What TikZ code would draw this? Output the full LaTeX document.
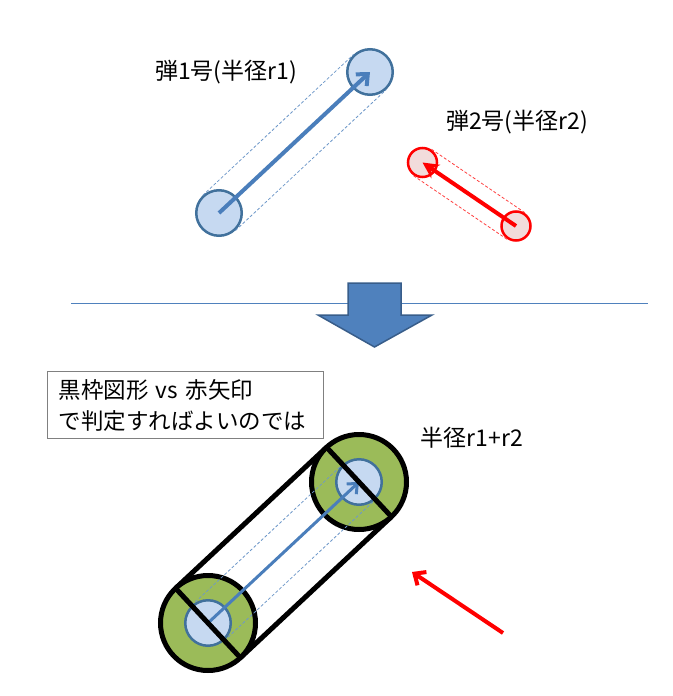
\documentclass[tikz,border=0pt]{standalone}
\usepackage{fontspec}
\setmainfont{Noto Sans CJK JP}
\usetikzlibrary{calc, arrows.meta}
\definecolor{ballblue}{HTML}{C6D9F1}
\definecolor{edgeblue}{HTML}{41719C}
\definecolor{shotblue}{HTML}{4A7EBB}
\definecolor{ballpink}{HTML}{F2DCDB}
\definecolor{hitgreen}{HTML}{9BBB59}
\definecolor{bigblue}{HTML}{4F81BD}
\definecolor{bigedge}{HTML}{385D8A}
\tikzstyle{ball1} = [circle, draw=edgeblue, fill=ballblue, line width=2.5pt, minimum size=45.5pt, inner sep=0pt]
\tikzstyle{ball2} = [circle, draw=red, fill=ballpink, line width=2.5pt, minimum size=29pt, inner sep=0pt]
\tikzstyle{hit} = [circle, draw=black, fill=hitgreen, line width=5pt, minimum size=95pt, inner sep=0pt]
\tikzstyle{trace} = [line width=0.8pt, dash pattern=on 3pt off 2pt]
\tikzstyle{label} = [font=\fontsize{23}{31}\selectfont, inner sep=0pt]
\tikzstyle{arrow} = [line width=4pt, -{Straight Barb[length=9pt, width=16pt]}]

\begin{document}
\begin{tikzpicture}[x=1pt, y=-1pt]
        \useasboundingbox (0,0) rectangle (672,696);

        % before
        \node at (219,213) [ball1] (b1a) {};
        \node at (370,72) [ball1] (b1b) {};
        \draw[trace, draw=shotblue!80] ($(b1a)!24pt!90:(b1b)$) -- ($(b1b)!24pt!-90:(b1a)$);
        \draw[trace, draw=shotblue!80] ($(b1a)!24pt!-90:(b1b)$) -- ($(b1b)!24pt!90:(b1a)$);
        \draw[arrow, shotblue] (b1a.center) -- (b1b.center);
        \node at (226,72) [label] (lab1) {弾1号(半径r1)};

        \node at (422.5,162.5) [ball2] (b2a) {};
        \node at (516,226) [ball2] (b2b) {};
        \draw[trace, draw=red!75] ($(b2a)!16pt!90:(b2b)$) -- ($(b2b)!16pt!-90:(b2a)$);
        \draw[trace, draw=red!75] ($(b2a)!16pt!-90:(b2b)$) -- ($(b2b)!16pt!90:(b2a)$);
        \draw[line width=4pt, red, -{Stealth[length=16pt, width=16pt]}] (b2b.center) -- (b2a.center);
        \node at (517,122) [label] (lab2) {弾2号(半径r2)};

        % divider
        \coordinate (sepl) at (71,303);
        \coordinate (sepr) at (648,303);
        \draw[bigblue, line width=1pt] (sepl) -- (sepr);
        \draw[fill=bigblue, draw=bigedge, line width=1.5pt]
            (348,283) -- (401,283) -- (401,315) -- (432,315) -- (374.5,347) -- (318,315) -- (348,315) -- cycle;

        % after
        \node at (47,371) [anchor=north west, draw=gray, line width=1pt, minimum width=276pt, minimum height=67pt,
            text width=254pt, inner xsep=11pt, align=left, font=\fontsize{22.5}{31}\selectfont] (note)
            {黒枠図形 vs 赤矢印\\で判定すればよいのでは};
        \node at (472,438) [label] (lab3) {半径r1+r2};

        \coordinate (c1) at (208,623);
        \coordinate (c2) at (359,482);
        \draw[line width=5pt] ($(c1)!47.5pt!90:(c2)$) -- ($(c2)!47.5pt!-90:(c1)$);
        \draw[line width=5pt] ($(c1)!47.5pt!-90:(c2)$) -- ($(c2)!47.5pt!90:(c1)$);
        \node at (c1) [hit] (h1) {};
        \node at (c2) [hit] (h2) {};
        \draw[trace, draw=shotblue!80] ($(c1)!24pt!90:(c2)$) -- ($(c2)!24pt!-90:(c1)$);
        \draw[trace, draw=shotblue!80] ($(c1)!24pt!-90:(c2)$) -- ($(c2)!24pt!90:(c1)$);
        \node at (c1) [ball1] (s1) {};
        \node at (c2) [ball1] (s2) {};
        \draw[line width=3pt, shotblue, -{Straight Barb[length=8pt, width=14pt]}] (s1.center) -- (s2.center);
        \draw[line width=5pt] ($(c1)!47.5pt!90:(c2)$) -- ($(c1)!47.5pt!-90:(c2)$);
        \draw[line width=5pt] ($(c2)!47.5pt!90:(c1)$) -- ($(c2)!47.5pt!-90:(c1)$);

        \coordinate (rt) at (503,633);
        \coordinate (rh) at (412,572);
        \draw[arrow, red] (rt) -- (rh);

    \end{tikzpicture}
\end{document}
